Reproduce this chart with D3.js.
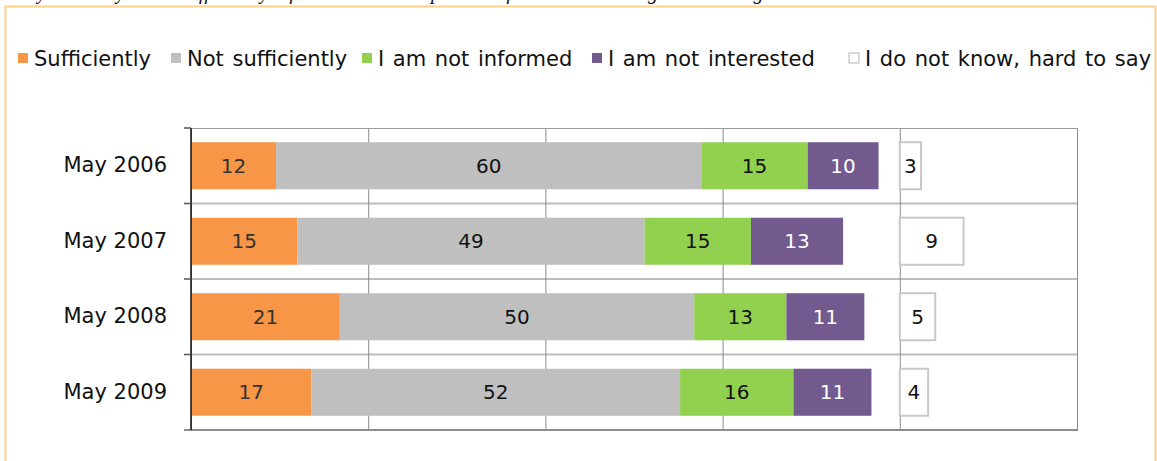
<!DOCTYPE html>
<html>
<head>
<meta charset="utf-8">
<script src="https://cdn.jsdelivr.net/npm/d3@7"></script>
<style>
  body { margin: 0; background: #fff; }
  svg { display: block; font-family: "DejaVu Sans", Verdana, sans-serif; }
</style>
</head>
<body>
<div id="chart"></div>
<script>
const periods = ["May 2006", "May 2007", "May 2008", "May 2009"];
const sufficiently = [12, 15, 21, 17];
const notSufficiently = [60, 49, 50, 52];
const notInformed = [15, 15, 13, 16];
const notInterested = [10, 13, 11, 11];
const dontKnow = [3, 9, 5, 4];
const seriesNames = ["Sufficiently", "Not sufficiently", "I am not informed", "I am not interested", "I do not know, hard to say"];
const xTicks = [0, 25, 50, 75, 100, 125];

const colors = ["#F79646", "#BFBFBF", "#92D050", "#725A8F", "#ffffff"];
const labelColors = ["#333", "#111", "#111", "#fff", "#111"];

const width = 1157, height = 461;
const m = { left: 191, right: 80, top: 128, bottom: 31 };

const svg = d3.select("#chart").append("svg")
  .attr("width", width)
  .attr("height", height);

// question line above the frame, mostly cut off by the top edge
svg.append("text")
  .attr("x", 8)
  .attr("y", -1)
  .attr("font-family", "Liberation Serif, Times New Roman, serif")
  .attr("font-style", "italic")
  .attr("font-size", 20)
  .attr("fill", "#111")
  .text("Do you think you are sufficiently informed about the process of the accession negotiations in general?");

// frame
svg.append("rect")
  .attr("x", 5.5).attr("y", 6.5)
  .attr("width", 1150).attr("height", 470)
  .attr("fill", "none")
  .attr("stroke", "#FFD08C")
  .attr("stroke-width", 2);

const x = d3.scaleLinear().domain([0, 125]).range([m.left, width - m.right]);
const y = d3.scaleBand().domain(periods)
  .range([m.top, height - m.bottom])
  .paddingInner(0.377).paddingOuter(0.1885);

// rows: one stack per period, "don't know" sits after the 100 mark
const rows = periods.map((p, i) => {
  const vals = [sufficiently[i], notSufficiently[i], notInformed[i], notInterested[i]];
  let acc = 0;
  const segs = vals.map((v, k) => {
    const s = { period: p, k, v, x0: acc, x1: acc + v };
    acc += v;
    return s;
  });
  segs.push({ period: p, k: 4, v: dontKnow[i], x0: 100, x1: 100 + dontKnow[i] });
  return segs;
});
const segs = rows.flat();

const step = y.step();
const bounds = periods.map((p, i) => m.top + i * step).concat([height - m.bottom]);

// horizontal separators
svg.append("g").selectAll("line")
  .data(bounds.slice(1, -1))
  .join("line")
  .attr("x1", m.left).attr("x2", x(125))
  .attr("y1", d => d).attr("y2", d => d)
  .attr("stroke", "#BDBDBD").attr("stroke-width", 2);

// vertical grid
svg.append("g")
  .attr("transform", `translate(0,${height - m.bottom})`)
  .call(d3.axisBottom(x).tickValues(xTicks).tickSize(-(height - m.bottom - m.top)).tickFormat(""))
  .call(g => g.select(".domain").remove())
  .call(g => g.selectAll(".tick line").attr("stroke", "#8c8c8c").attr("stroke-width", 1));

// top and bottom lines
svg.append("line")
  .attr("x1", m.left).attr("x2", x(125) + 1)
  .attr("y1", m.top + 0.5).attr("y2", m.top + 0.5)
  .attr("stroke", "#9a9a9a");
svg.append("line")
  .attr("x1", 184).attr("x2", x(125) + 1)
  .attr("y1", height - m.bottom).attr("y2", height - m.bottom)
  .attr("stroke", "#8c8c8c").attr("stroke-width", 2);

// bars
svg.append("g").selectAll("rect")
  .data(segs)
  .join("rect")
  .attr("x", d => x(d.x0))
  .attr("y", d => y(d.period))
  .attr("width", d => x(d.x1) - x(d.x0))
  .attr("height", y.bandwidth())
  .attr("fill", d => colors[d.k])
  .attr("stroke", d => d.k === 4 ? "#C8C8C8" : "none")
  .attr("stroke-width", 2);

svg.append("g").selectAll("text")
  .data(segs)
  .join("text")
  .attr("x", d => (x(d.x0) + x(d.x1)) / 2)
  .attr("y", d => y(d.period) + y.bandwidth() / 2)
  .attr("dy", "0.36em")
  .attr("text-anchor", "middle")
  .attr("font-size", 20)
  .attr("fill", d => labelColors[d.k])
  .text(d => d.v);

// left axis
const yAxis = svg.append("g")
  .attr("transform", `translate(${m.left},0)`)
  .call(d3.axisLeft(y).tickSize(0).tickPadding(24))
  .call(g => g.select(".domain").remove());
yAxis.selectAll("text").attr("font-size", 21).attr("fill", "#111")
  .attr("font-family", "DejaVu Sans, Verdana, sans-serif");
svg.append("line")
  .attr("x1", m.left).attr("x2", m.left)
  .attr("y1", m.top).attr("y2", height - m.bottom)
  .attr("stroke", "#111").attr("stroke-width", 1.5);
svg.append("g").selectAll("line")
  .data(bounds.slice(0, -1))
  .join("line")
  .attr("x1", 184).attr("x2", m.left)
  .attr("y1", d => d).attr("y2", d => d)
  .attr("stroke", "#555").attr("stroke-width", 1.5);

// legend
const legendX = [18, 171, 362, 592, 849];
const legend = svg.append("g").selectAll("g")
  .data(seriesNames)
  .join("g")
  .attr("transform", (d, i) => `translate(${legendX[i]},53)`);
legend.append("rect")
  .attr("width", 10).attr("height", 10)
  .attr("fill", (d, i) => colors[i])
  .attr("stroke", (d, i) => i === 4 ? "#B5B5B5" : "none")
  .attr("stroke-width", 1);
legend.append("text")
  .attr("x", 16).attr("y", 5)
  .attr("dy", "0.36em")
  .attr("font-size", 21)
  .attr("word-spacing", 2)
  .attr("fill", "#111")
  .text(d => d);
</script>
</body>
</html>
